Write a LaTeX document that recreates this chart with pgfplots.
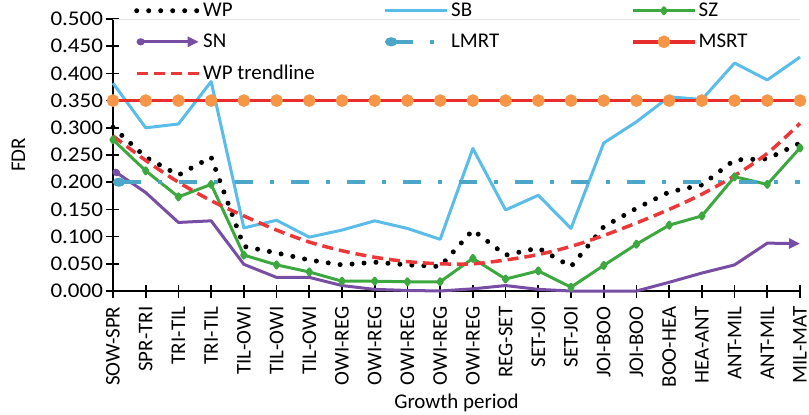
\documentclass[border=0pt]{standalone}
\usepackage{fontspec}
\setmainfont{Carlito}
\usepackage{graphicx}
\usepackage{pgfplots}
\pgfplotsset{compat=1.18}
\usetikzlibrary{arrows.meta}

\definecolor{sbblue}{RGB}{90,188,232}
\definecolor{szgreen}{RGB}{62,168,64}
\definecolor{snpurple}{RGB}{120,78,165}
\definecolor{lmrtblue}{RGB}{75,166,200}
\definecolor{msrtred}{RGB}{232,45,45}
\definecolor{msrtorange}{RGB}{247,150,70}
\definecolor{trendred}{RGB}{235,55,55}

\newcommand{\yl}[1]{\scalebox{1.1}[1]{#1}\hspace{15bp}}

\pgfplotstableread{
x WP SB SZ SN TR LM MS
0 0.301 0.382 0.278 0.222 0.285 0.2 0.35
1 0.246 0.300 0.221 0.181 0.240 0.2 0.35
2 0.213 0.307 0.173 0.126 0.200 0.2 0.35
3 0.246 0.385 0.196 0.129 0.166 0.2 0.35
4 0.082 0.116 0.066 0.049 0.138 0.2 0.35
5 0.070 0.130 0.048 0.025 0.112 0.2 0.35
6 0.057 0.099 0.035 0.025 0.090 0.2 0.35
7 0.048 0.112 0.018 0.010 0.074 0.2 0.35
8 0.053 0.129 0.018 0.003 0.062 0.2 0.35
9 0.048 0.115 0.017 0.001 0.054 0.2 0.35
10 0.045 0.095 0.017 0.000 0.050 0.2 0.35
11 0.112 0.262 0.060 0.004 0.050 0.2 0.35
12 0.066 0.149 0.022 0.010 0.057 0.2 0.35
13 0.079 0.176 0.037 0.003 0.067 0.2 0.35
14 0.045 0.115 0.007 0.000 0.082 0.2 0.35
15 0.118 0.272 0.047 0.000 0.102 0.2 0.35
16 0.152 0.311 0.086 0.000 0.125 0.2 0.35
17 0.182 0.357 0.121 0.016 0.150 0.2 0.35
18 0.195 0.352 0.138 0.033 0.178 0.2 0.35
19 0.241 0.419 0.210 0.048 0.212 0.2 0.35
20 0.243 0.388 0.196 0.088 0.253 0.2 0.35
21 0.272 0.430 0.263 0.087 0.308 0.2 0.35
}\datatable

\begin{document}
\begin{tikzpicture}
\useasboundingbox (-113bp,-124bp) rectangle (696bp,291bp);
\begin{axis}[
  at={(0,0)}, anchor=south west,
  scale only axis, width=687bp, height=272bp,
  font=\fontsize{21}{25}\selectfont,
  xmin=0, xmax=21, ymin=0, ymax=0.5,
  axis x line*=bottom, axis y line*=left,
  axis line style={line width=1.6bp, black},
  tick style={line width=1.6bp, black},
  major tick length=13bp, tick align=center,
  xtick={0,...,21},
  xticklabels={SOW-SPR,SPR-TRI,TRI-TIL,TRI-TIL,TIL-OWI,TIL-OWI,TIL-OWI,OWI-REG,OWI-REG,OWI-REG,OWI-REG,OWI-REG,REG-SET,SET-JOI,SET-JOI,JOI-BOO,JOI-BOO,BOO-HEA,HEA-ANT,ANT-MIL,ANT-MIL,MIL-MAT},
  xticklabel style={rotate=90, anchor=east, inner sep=9bp},
  ytick={0,0.05,0.1,0.15,0.2,0.25,0.3,0.35,0.4,0.45,0.5},
  yticklabels={\yl{0.000},\yl{0.050},\yl{0.100},\yl{0.150},\yl{0.200},\yl{0.250},\yl{0.300},\yl{0.350},\yl{0.400},\yl{0.450},\yl{0.500}},
  xlabel={Growth period}, ylabel={FDR},
  every axis x label/.style={at={(axis description cs:0.5,-0.412)}, anchor=center},
  every axis y label/.style={at={(axis description cs:-0.1376,0.5)}, rotate=90, anchor=center},
  legend columns=3,
  legend cell align=left,
  legend style={draw=none, fill=none, at={(axis description cs:0,1)}, anchor=north west, xshift=18bp, yshift=20bp, row sep=12bp, column sep=0bp, font=\fontsize{21}{25}\selectfont, nodes={inner sep=2bp}},
  legend image code/.code={\draw[mark repeat=2,mark phase=2,#1] plot coordinates {(0bp,0bp) (31bp,0bp) (62bp,0bp)};},
  clip=false,
]
\draw[gray!20, line width=0.6bp] (axis cs:0,0.5) -- (axis cs:21,0.5);
\addplot[black, line width=5bp, line cap=round, dash pattern=on 0bp off 12bp] table[x=x,y=WP]{\datatable};
\addlegendentry{\makebox[178bp][l]{WP}}
\addplot[sbblue, line width=3bp, line join=round] table[x=x,y=SB]{\datatable};
\addlegendentry{\makebox[178bp][l]{SB}}
\addplot[szgreen, line width=3bp, line join=round, mark=diamond*, mark size=3bp, mark options={solid}] table[x=x,y=SZ]{\datatable};
\addlegendentry{\makebox[178bp][l]{SZ}}
\addplot[snpurple, line width=3bp, line join=round, {Circle[length=8bp,width=7bp]}-{Triangle[length=11bp,width=10bp]}] table[x=x,y=SN]{\datatable};
\addlegendentry{\makebox[178bp][l]{SN}}
\addplot[lmrtblue, line width=4bp, dash pattern=on 18bp off 17bp on 4bp off 17bp, {Circle[length=12bp,width=9bp]}-] table[x=x,y=LM]{\datatable};
\addlegendentry{\makebox[178bp][l]{LMRT}}
\addplot[msrtred, line width=3.5bp, mark=*, mark size=4.5bp, mark options={solid, draw=msrtorange, fill=msrtorange}] table[x=x,y=MS]{\datatable};
\addlegendentry{\makebox[178bp][l]{MSRT}}
\addplot[trendred, line width=3.5bp, dash pattern=on 11bp off 6bp, smooth] table[x=x,y=TR]{\datatable};
\addlegendentry{\makebox[178bp][l]{WP trendline}}
\end{axis}
\end{tikzpicture}
\end{document}
